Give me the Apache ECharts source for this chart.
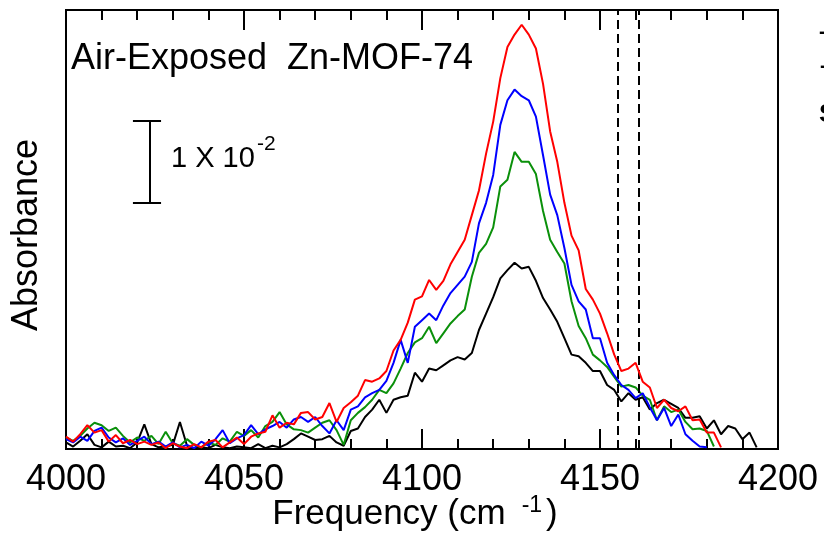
<!DOCTYPE html>
<html>
<head>
<meta charset="utf-8">
<script src="https://cdn.jsdelivr.net/npm/echarts@6/dist/echarts.min.js"></script>
<style>
html,body{margin:0;padding:0;background:#fff;}
#chart{width:824px;height:541px;}
</style>
</head>
<body>
<div id="chart"></div>
<script>
// Frequency grid (cm^-1)
const freq = [];
for (let f = 4000; f <= 4194; f += 2) freq.push(f);

// Absorbance values in units of 1e-3
const redVals = [1.5,0.9,1.8,2.9,2.0,2.3,0.9,1.7,0.7,1.1,0.6,0.9,0.5,0.8,0.1,0.7,0.3,0.1,0.6,0.2,
  0.9,1.1,0.2,0.8,1.4,0.6,1.5,1.9,2.1,4.1,2.6,3.2,3.0,4.4,4.5,3.6,3.9,5.6,3.3,5.0,
  5.7,6.5,8.4,8.2,8.6,9.5,12.0,13.3,15.4,18.2,18.6,20.6,19.4,20.5,22.5,24.0,25.5,28.5,31.5,36.0,
  39.9,45.2,49.0,50.5,51.7,50.5,48.8,44.5,38.7,35.0,30.0,26.0,24.2,19.5,18.2,16.5,14.1,11.5,9.5,9.8,
  10.5,8.2,7.5,5.0,6.0,5.0,4.6,5.2,3.5,3.6,2.0,2.0,0.2,null,null,null,null,null];
const blueVals = [1.2,0.8,1.5,1.0,2.2,2.6,1.4,0.8,1.3,0.5,1.0,1.5,0.6,0.9,0.3,0.8,0.2,0.5,0.1,0.9,
  0.4,1.2,2.3,0.7,1.3,1.7,2.9,1.8,2.4,2.8,3.3,2.6,3.6,3.9,3.3,3.9,2.8,1.9,3.5,2.3,
  4.8,5.2,6.3,6.8,7.2,8.3,10.5,13.3,10.5,14.9,15.7,16.5,15.7,17.5,19.0,20.0,21.0,22.8,27.5,30.0,
  33.4,39.5,42.5,43.8,43.0,42.5,40.5,35.8,31.0,28.5,24.5,20.0,18.0,17.0,13.5,13.5,10.5,9.0,7.8,7.2,
  6.2,6.8,5.1,3.5,5.0,2.8,4.2,1.8,1.0,0.3,0.2,null,null,null,null,null,null,null];
const greenVals = [1.4,1.0,1.6,2.5,3.2,2.9,2.2,2.6,1.6,0.8,1.4,1.0,1.6,0.6,2.1,0.7,0.4,1.2,0.5,0.2,
  0.8,0.5,1.3,0.9,2.1,1.6,2.3,1.4,2.8,3.3,4.5,3.0,2.4,2.3,2.0,2.6,3.2,3.5,2.3,0.5,
  3.5,4.4,5.1,6.0,7.2,6.8,8.0,9.8,11.7,13.0,13.5,14.9,12.9,14.1,15.3,16.2,17.0,21.0,23.9,25.0,
  27.0,32.0,32.8,36.2,35.0,35.0,33.5,29.0,25.5,24.0,22.6,18.0,15.0,13.5,11.5,10.8,10.0,8.8,7.6,7.8,
  7.5,6.5,6.0,3.5,5.2,4.5,4.8,3.3,2.4,2.5,2.2,0.3,null,null,null,null,null,null];
const blackVals = [0.8,0.3,1.0,1.8,0.5,0.2,0.9,0.3,0.4,0.1,0.8,3.0,0.6,0.2,0.3,0.5,3.3,0.4,0.1,0.2,
  0.1,0.5,0.2,0.1,0.3,0.2,0.1,0.6,0.1,0.4,0.2,0.6,1.2,1.9,1.5,1.1,1.2,1.6,0.8,0.4,
  2.2,2.5,3.9,4.8,6.0,4.4,6.0,6.3,6.5,9.3,8.2,9.8,9.6,10.2,10.8,11.2,10.9,11.7,14.5,16.5,
  18.5,20.8,21.8,22.7,22.0,22.2,20.5,18.4,17.0,15.5,13.5,11.5,11.3,10.5,9.5,9.5,7.8,7.2,5.8,6.8,
  6.0,6.3,4.8,5.6,6.0,5.5,5.0,3.8,3.8,4.0,2.5,3.5,1.8,2.8,2.5,1.2,2.0,0.2];

// Reference frequencies (dashed lines)
const refLines = [4155, 4161];
// Scale bar: 1 x 10^-2 = 10 units of 1e-3
const scaleBarX = 4023.6;
const scaleBarCap = [4018.8, 4026.7];
const scaleBarY = [30, 40];
const xTicks = [4000, 4050, 4100, 4150, 4200];

function pairs(vals) { return freq.map((f, i) => [f, vals[i]]); }

const chart = echarts.init(document.getElementById('chart'));
const FONT = 'Liberation Sans, Arial, sans-serif';
const axisCommon = {
  type: 'value', min: xTicks[0], max: xTicks[xTicks.length - 1], interval: 50,
  axisLine: { show: true, lineStyle: { color: '#000', width: 2 } },
  axisTick: { show: true, inside: true, length: 20, lineStyle: { color: '#000', width: 2 } },
  minorTick: { show: true, splitNumber: 5, length: 10, lineStyle: { color: '#000', width: 2 } },
  splitLine: { show: false }
};

chart.setOption({
  animation: false,
  backgroundColor: '#fff',
  grid: { left: 66, top: 10, right: 46, bottom: 92, show: true, borderColor: '#000', borderWidth: 2 },
  xAxis: [
    Object.assign({}, axisCommon, {
      position: 'bottom',
      axisLabel: { show: true, fontSize: 36, color: '#000', fontFamily: FONT, margin: 13,
        formatter: v => String(v) }
    }),
    Object.assign({}, axisCommon, { position: 'top', axisLabel: { show: false } })
  ],
  yAxis: {
    type: 'value', min: 0, max: 53.5,
    axisLine: { show: false }, axisTick: { show: false }, axisLabel: { show: false }, splitLine: { show: false }
  },
  series: [
    { type: 'line', data: pairs(blackVals), showSymbol: false, symbol: 'none', clip: true,
      lineStyle: { color: '#000000', width: 2 }, z: 3,
      markLine: { silent: true, symbol: 'none', label: { show: false },
        lineStyle: { color: '#000', width: 2, type: [9, 5] },
        data: refLines.map(v => ({ xAxis: v })) } },
    { type: 'line', data: pairs(greenVals), showSymbol: false, symbol: 'none', clip: true,
      lineStyle: { color: '#0a900a', width: 2 }, z: 4 },
    { type: 'line', data: pairs(blueVals), showSymbol: false, symbol: 'none', clip: true,
      lineStyle: { color: '#0000ff', width: 2 }, z: 5 },
    { type: 'line', data: pairs(redVals), showSymbol: false, symbol: 'none', clip: true,
      lineStyle: { color: '#ff0000', width: 2 }, z: 6 },
    { type: 'lines', coordinateSystem: 'cartesian2d', z: 7,
      lineStyle: { color: '#000', width: 2, opacity: 1 },
      data: [
        { coords: [[scaleBarX, scaleBarY[0]], [scaleBarX, scaleBarY[1]]] },
        { coords: [[scaleBarCap[0], scaleBarY[0]], [scaleBarCap[1], scaleBarY[0]]] },
        { coords: [[scaleBarCap[0], scaleBarY[1]], [scaleBarCap[1], scaleBarY[1]]] }
      ] }
  ],
  graphic: [
    { type: 'text', left: 71, top: 41, style: { text: 'Air-Exposed  Zn-MOF-74', font: '36px ' + FONT, fill: '#000' } },
    { type: 'text', left: 171, top: 144, style: { text: '1 X 10', font: '29px ' + FONT, fill: '#000' } },
    { type: 'text', left: 257, top: 134, style: { text: '-2', font: '21px ' + FONT, fill: '#000' } },
    { type: 'text', x: 415, y: 494,
      style: {
        text: '{a|Frequency (cm}{s|-1}{a|)}', align: 'center', verticalAlign: 'top', fill: '#000',
        rich: {
          a: { fontSize: 35, fontFamily: FONT, lineHeight: 38, verticalAlign: 'bottom', fill: '#000' },
          s: { fontSize: 23, fontFamily: FONT, lineHeight: 23, verticalAlign: 'top', padding: [0, 4, 0, 16], fill: '#000' }
        }
      } },
    { type: 'text', x: 9, y: 235, rotation: Math.PI / 2,
      style: { text: 'Absorbance', font: '36px ' + FONT, fill: '#000', align: 'center', verticalAlign: 'top' } },
    { type: 'text', left: 819, top: 22, style: { text: '-', font: 'bold 20px ' + FONT, fill: '#000' } },
    { type: 'text', left: 820, top: 56, style: { text: '-', font: 'bold 20px ' + FONT, fill: '#000' } },
    { type: 'text', left: 819, top: 102, style: { text: 'S', font: 'bold 26px ' + FONT, fill: '#000' } }
  ]
});
</script>
</body>
</html>
